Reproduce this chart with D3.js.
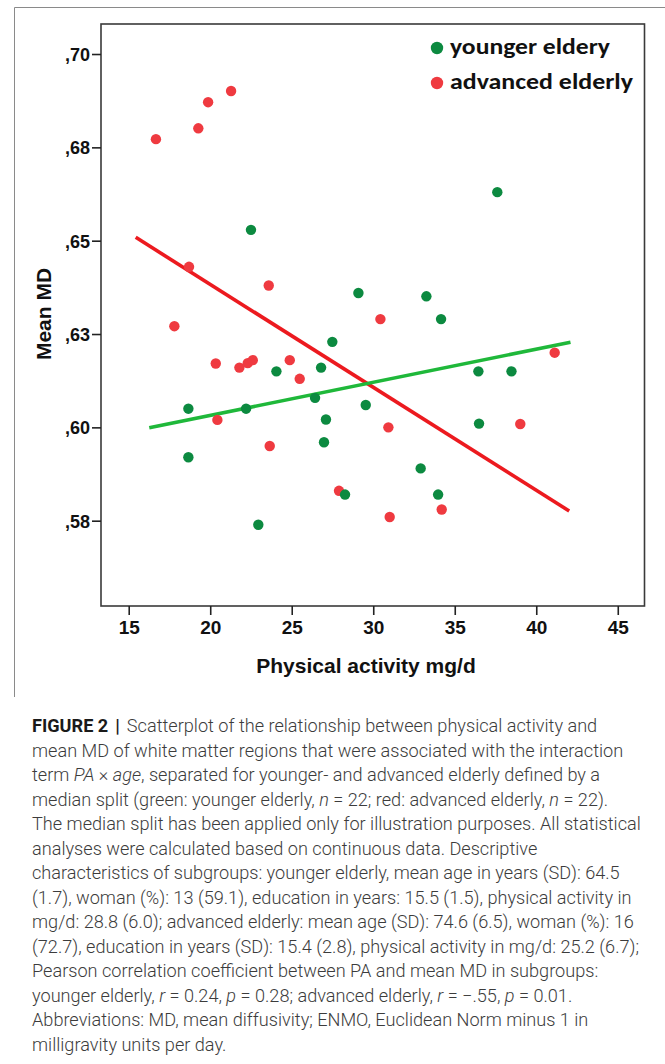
<!DOCTYPE html>
<html>
<head>
<meta charset="utf-8">
<script src="https://cdn.jsdelivr.net/npm/d3@7"></script>
<style>
  html, body { margin: 0; padding: 0; background: #fff; }
  svg { display: block; }
</style>
</head>
<body>
<svg id="chart" width="665" height="1064"></svg>
<script>
// ---- data ----
const youngerX = [22.50, 37.61, 29.09, 33.26, 34.16, 27.49, 24.06, 26.80, 18.66, 22.20, 26.43,
                  18.66, 22.95, 26.98, 36.45, 38.48, 29.54, 27.10, 36.49, 32.91, 28.27, 33.98];
const youngerY = [0.6529, 0.6630, 0.6360, 0.6351, 0.6290, 0.6229, 0.6150, 0.6160, 0.6050, 0.6050, 0.6079,
                  0.5920, 0.5739, 0.5960, 0.6150, 0.6150, 0.6060, 0.6021, 0.6010, 0.5890, 0.5820, 0.5820];
const advancedX = [16.67, 19.27, 19.87, 21.28, 18.70, 23.59, 30.44, 17.80, 20.34, 21.79, 22.30,
                   22.61, 24.88, 25.49, 20.44, 23.65, 30.93, 39.02, 41.13, 27.90, 34.20, 31.01];
const advancedY = [0.6772, 0.6801, 0.6871, 0.6901, 0.6430, 0.6380, 0.6290, 0.6271, 0.6171, 0.6160, 0.6172,
                   0.6180, 0.6180, 0.6130, 0.6020, 0.5950, 0.6000, 0.6009, 0.6200, 0.5830, 0.5780, 0.5760];
const youngerFitX = [16.26, 42.10];
const youngerFitY = [0.5999, 0.6228];
const advancedFitX = [15.43, 42.02];
const advancedFitY = [0.6509, 0.5776];
const xTicks = [15, 20, 25, 30, 35, 40, 45];
const yTicks = [0.575, 0.600, 0.625, 0.650, 0.675, 0.700];
const yTickLabels = [",58", ",60", ",63", ",65", ",68", ",70"];
const legendLabels = ["younger eldery", "advanced elderly"];
const xTitle = "Physical activity mg/d";
const yTitle = "Mean MD";
const captionLines = [
  [["FIGURE 2", "b"], ["|", "bar"], ["Scatterplot of the relationship between physical activity and", "gap"]],
  [["mean MD of white matter regions that were associated with the interaction", ""]],
  [["term ", ""], ["PA", "i"], [" × ", ""], ["age", "i"], [", separated for younger- and advanced elderly defined by a", ""]],
  [["median split (green: younger elderly, ", ""], ["n", "i"], [" = 22; red: advanced elderly, ", ""], ["n", "i"], [" = 22).", ""]],
  [["The median split has been applied only for illustration purposes. All statistical", ""]],
  [["analyses were calculated based on continuous data. Descriptive", ""]],
  [["characteristics of subgroups: younger elderly, mean age in years (SD): 64.5", ""]],
  [["(1.7), woman (%): 13 (59.1), education in years: 15.5 (1.5), physical activity in", ""]],
  [["mg/d: 28.8 (6.0); advanced elderly: mean age (SD): 74.6 (6.5), woman (%): 16", ""]],
  [["(72.7), education in years (SD): 15.4 (2.8), physical activity in mg/d: 25.2 (6.7);", ""]],
  [["Pearson correlation coefficient between PA and mean MD in subgroups:", ""]],
  [["younger elderly, ", ""], ["r", "i"], [" = 0.24, ", ""], ["p", "i"], [" = 0.28; advanced elderly, ", ""], ["r", "i"], [" = \u2212.55, ", ""], ["p", "i"], [" = 0.01.", ""]],
  [["Abbreviations: MD, mean diffusivity; ENMO, Euclidean Norm minus 1 in", ""]],
  [["milligravity units per day.", ""]]
];

// ---- layout ----
const svg = d3.select("#chart");
const plot = { left: 101, top: 24, right: 644.5, bottom: 606 };
const GREEN_DOT = "#0c8a40", RED_DOT = "#ef3a40";
const GREEN_LINE = "#1fb83a", RED_LINE = "#ec1a1f";
const tickFont = "'Liberation Sans Narrow', 'Arial Narrow', 'Liberation Sans', Arial, sans-serif";
const titleFont = "'Liberation Sans', Arial, sans-serif";

// outer frame (top + left edge of the figure image)
svg.append("path")
  .attr("d", `M14.5,697 V7.5 H665`)
  .attr("fill", "none").attr("stroke", "#8a8a8a").attr("stroke-width", 1);

const x = d3.scaleLinear().domain([13.30, 46.64]).range([plot.left, plot.right]);
const y = d3.scaleLinear().domain([0.55215, 0.70804]).range([plot.bottom, plot.top]);

// plot box
svg.append("rect")
  .attr("x", plot.left).attr("y", plot.top)
  .attr("width", plot.right - plot.left).attr("height", plot.bottom - plot.top)
  .attr("fill", "none").attr("stroke", "#3a3a3a").attr("stroke-width", 1.6);

// axes
const xAxis = d3.axisBottom(x).tickValues(xTicks).tickSize(9).tickSizeOuter(0).tickPadding(6)
  .tickFormat(d3.format("d"));
const gx = svg.append("g").attr("transform", `translate(0,${plot.bottom})`).call(xAxis);
gx.select(".domain").remove();
gx.selectAll(".tick line").attr("stroke", "#222").attr("stroke-width", 1.6);
gx.selectAll(".tick text").attr("fill", "#111").attr("font-family", tickFont)
  .attr("font-weight", "bold").attr("font-size", 19);

const yAxis = d3.axisLeft(y).tickValues(yTicks).tickSize(9).tickSizeOuter(0).tickPadding(2)
  .tickFormat((d, i) => yTickLabels[i]);
const gy = svg.append("g").attr("transform", `translate(${plot.left},0)`).call(yAxis);
gy.select(".domain").remove();
gy.selectAll(".tick line").attr("stroke", "#222").attr("stroke-width", 1.6);
gy.selectAll(".tick text").attr("fill", "#111").attr("font-family", tickFont)
  .attr("font-weight", "bold").attr("font-size", 18).attr("dy", "0.36em");

// axis titles
svg.append("text").attr("x", 366).attr("y", 673).attr("text-anchor", "middle")
  .attr("font-family", titleFont).attr("font-weight", "bold").attr("font-size", 21)
  .attr("fill", "#111").text(xTitle);
svg.append("text").attr("transform", "translate(51,314) rotate(-90)").attr("text-anchor", "middle")
  .attr("font-family", titleFont).attr("font-weight", "bold").attr("font-size", 21)
  .attr("fill", "#111").text(yTitle);

// fit lines
const line = d3.line().x(d => x(d[0])).y(d => y(d[1]));
svg.append("path").datum(d3.zip(advancedFitX, advancedFitY)).attr("d", line)
  .attr("fill", "none").attr("stroke", RED_LINE).attr("stroke-width", 3.6);
svg.append("path").datum(d3.zip(youngerFitX, youngerFitY)).attr("d", line)
  .attr("fill", "none").attr("stroke", GREEN_LINE).attr("stroke-width", 3.6);

// points
svg.append("g").selectAll("circle").data(d3.zip(advancedX, advancedY)).join("circle")
  .attr("cx", d => x(d[0])).attr("cy", d => y(d[1])).attr("r", 5.2).attr("fill", RED_DOT);
svg.append("g").selectAll("circle").data(d3.zip(youngerX, youngerY)).join("circle")
  .attr("cx", d => x(d[0])).attr("cy", d => y(d[1])).attr("r", 5.2).attr("fill", GREEN_DOT);

// legend
const legendColors = [GREEN_DOT, RED_DOT];
const legendWidths = [160, 183];
const lg = svg.append("g");
legendLabels.forEach((lab, i) => {
  const cy = 48 + i * 35;
  lg.append("circle").attr("cx", 437).attr("cy", cy).attr("r", 6.2).attr("fill", legendColors[i]);
  lg.append("text").attr("x", 450).attr("y", cy + 6)
    .attr("font-family", "Carlito, Lato, 'Open Sans', sans-serif").attr("font-weight", "bold")
    .attr("font-size", 22).attr("fill", "#111")
    .attr("textLength", legendWidths[i]).attr("lengthAdjust", "spacingAndGlyphs")
    .text(lab);
});

// caption
const capFont = "Roboto, 'Liberation Sans', sans-serif";
const cap = svg.append("g");
const capTexts = captionLines.map((segs, i) => {
  const t = cap.append("text").attr("x", 32).attr("y", 732 + i * 24.5)
    .attr("font-family", capFont).attr("font-size", 16).attr("fill", "#3c3c3c").attr("font-weight", 300);
  segs.forEach(([s, st]) => {
    const ts = t.append("tspan").text(s);
    if (st === "b") ts.attr("font-weight", 700).attr("fill", "#1a1a1a");
    if (st === "bar") ts.attr("font-weight", 700).attr("fill", "#1a1a1a").attr("dx", 7);
    if (st === "gap") ts.attr("dx", 7);
    if (st === "i") ts.attr("font-style", "italic");
  });
  return t;
});
// fit font size so the widest line spans the same width as in the reference
const widest = d3.max(capTexts.slice(1), t => t.node().getComputedTextLength());
const fs = 16 * 609 / widest;
capTexts.forEach(t => t.attr("font-size", fs));
</script>
</body>
</html>
